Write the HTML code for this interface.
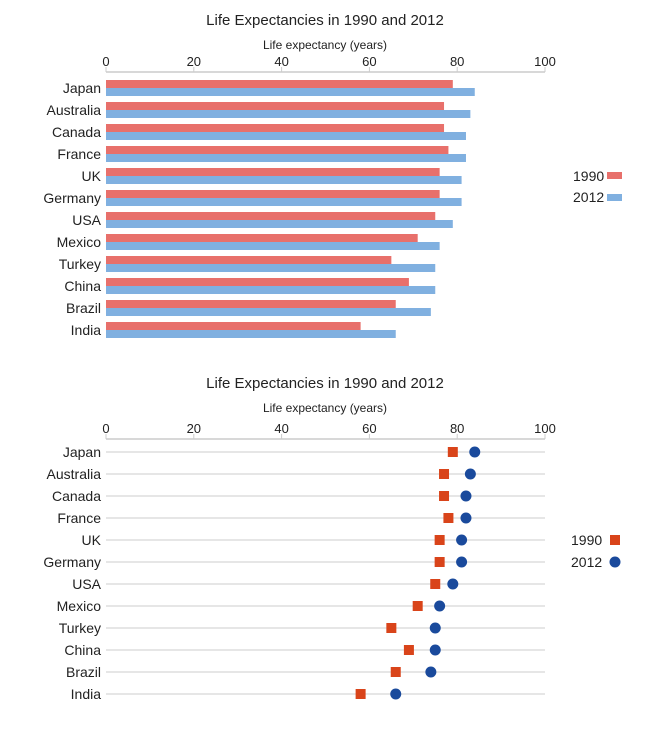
<!DOCTYPE html>
<html><head><meta charset="utf-8"><style>
body{margin:0;background:#fff;font-family:"Liberation Sans",sans-serif;}
svg text{font-family:"Liberation Sans",sans-serif;fill:#222;}
</style></head><body>
<svg id="c" width="650" height="724" xmlns="http://www.w3.org/2000/svg"></svg>
<script>
const countries=["Japan","Australia","Canada","France","UK","Germany","USA","Mexico","Turkey","China","Brazil","India"];
const v1990=[79,77,77,78,76,76,75,71,65,69,66,58];
const v2012=[84,83,82,82,81,81,79,76,75,75,74,66];
const ticks=[0,20,40,60,80,100];
const svg=document.getElementById('c');
const NS="http://www.w3.org/2000/svg";
const X=v=>106+v*4.39;
function mk(tag,attrs,parent,text){const e=document.createElementNS(NS,tag);for(const k in attrs)e.setAttribute(k,attrs[k]);if(text!=null)e.textContent=text;(parent||svg).appendChild(e);return e;}
function axes(g,titleY,axisY,prefix){
  let t=mk('text',{x:325,y:titleY,'text-anchor':'middle','font-size':15},g,'Life Expectancies in 1990 and 2012');
  
  
  t=mk('text',{x:325,y:titleY+24,'text-anchor':'middle','font-size':12},g,'Life expectancy (years)');
  
  
  let l=mk('line',{x1:X(0),x2:X(100),y1:axisY,y2:axisY,stroke:'#ccc','stroke-width':1.5},g);
  
  
  ticks.forEach(v=>{
    mk('line',{x1:X(v),x2:X(v),y1:axisY-5,y2:axisY,stroke:'#ccc'},g);
    const tl=mk('text',{x:X(v),y:axisY-6,'text-anchor':'middle','font-size':13},g,String(v));
    
    
  });
}
const g1=mk('g',{});


axes(g1,25,72,'bar');
countries.forEach((c,i)=>{
  const y=80+22*i;
  const lb=mk('text',{x:101,y:y+13,'text-anchor':'end','font-size':14},g1,c);
  
  
  const r1=mk('rect',{x:X(0),y:y,width:X(v1990[i])-X(0),height:8,fill:'#e8706b'},g1);
  
  
  const r2=mk('rect',{x:X(0),y:y+8,width:X(v2012[i])-X(0),height:8,fill:'#80b0e0'},g1);
  
  
});
let e;
e=mk('text',{x:573,y:181,'font-size':14},g1,'1990');
mk('rect',{x:607,y:172,width:15,height:7,fill:'#e8706b'},g1);
e=mk('text',{x:573,y:202,'font-size':14},g1,'2012');
mk('rect',{x:607,y:194,width:15,height:7,fill:'#80b0e0'},g1);
const g2=mk('g',{});


axes(g2,388,439,'dot');
countries.forEach((c,i)=>{
  const y=452+22*i;
  mk('line',{x1:X(0),x2:X(100),y1:y,y2:y,stroke:'#d8d8d8','stroke-width':1.2},g2);
  const lb=mk('text',{x:101,y:y+5,'text-anchor':'end','font-size':14},g2,c);
  
  
  const s=mk('rect',{x:X(v1990[i])-5,y:y-5,width:10,height:10,fill:'#d9441a'},g2);
  
  
  const ci=mk('circle',{cx:X(v2012[i]),cy:y,r:5.5,fill:'#1a4a9c'},g2);
  
  
});
e=mk('text',{x:571,y:545,'font-size':14},g2,'1990');
mk('rect',{x:610,y:535,width:10,height:10,fill:'#d9441a'},g2);
e=mk('text',{x:571,y:567,'font-size':14},g2,'2012');
mk('circle',{cx:615,cy:562,r:5.5,fill:'#1a4a9c'},g2);
</script>
</body></html>
